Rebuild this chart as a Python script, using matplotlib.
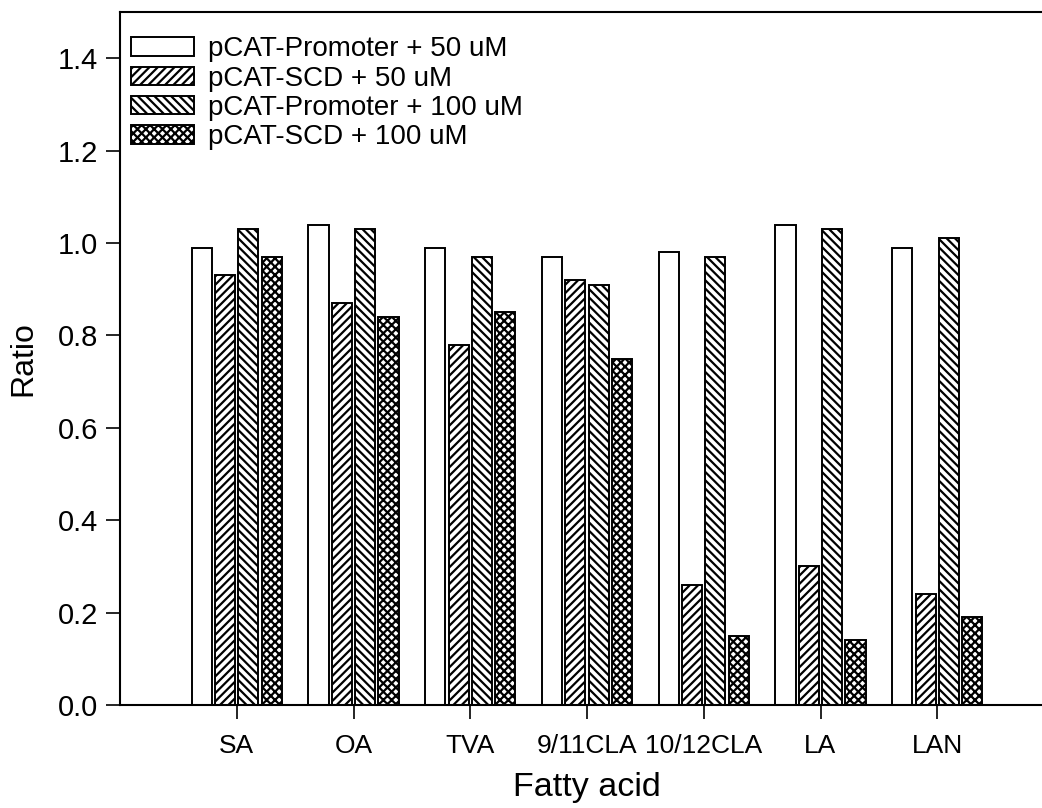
import numpy as np
import matplotlib
matplotlib.use("Agg")
import matplotlib.pyplot as plt

plt.rcParams['font.family'] = ['Liberation Sans', 'DejaVu Sans']
plt.rcParams['hatch.linewidth'] = 1.6

acids = ["SA", "OA", "TVA", "9/11CLA", "10/12CLA", "LA", "LAN"]
series_names = ["pCAT-Promoter + 50 uM", "pCAT-SCD + 50 uM",
                "pCAT-Promoter + 100 uM", "pCAT-SCD + 100 uM"]
promoter_50 = [0.99, 1.04, 0.99, 0.97, 0.98, 1.04, 0.99]
scd_50 = [0.93, 0.87, 0.78, 0.92, 0.26, 0.30, 0.24]
promoter_100 = [1.03, 1.03, 0.97, 0.91, 0.97, 1.03, 1.01]
scd_100 = [0.97, 0.84, 0.85, 0.75, 0.15, 0.14, 0.19]

series = [promoter_50, scd_50, promoter_100, scd_100]
hatches = [None, "////", "\\\\\\\\", "xxxx"]

fig = plt.figure(figsize=(10.42, 8.08), dpi=100)
# axes runs slightly past the right edge, so no right frame shows
ax = fig.add_axes([120 / 1042, 103 / 808, 934 / 1042, 693 / 808])

x = np.arange(len(acids))
width = 0.172
offsets = [-0.3, -0.1, 0.1, 0.3]
for vals, name, h, off in zip(series, series_names, hatches, offsets):
    ax.bar(x + off, vals, width, color="white", edgecolor="black",
           linewidth=1.4, hatch=h, label=name)

ax.set_xlim(-1, 7)
ax.set_ylim(0, 1.5)
ax.set_yticks(np.arange(0, 1.41, 0.2))
ax.set_yticklabels(["%.1f" % v for v in np.arange(0, 1.41, 0.2)])
ax.set_xticks(x)
ax.set_xticklabels(acids)

ax.tick_params(axis="y", direction="out", length=10, width=1.2,
               labelsize=21, pad=6)
ax.tick_params(axis="x", direction="out", length=10, width=1.2,
               labelsize=19, pad=11)
for s in ax.spines.values():
    s.set_linewidth(1.5)

ax.set_ylabel("Ratio", fontsize=23, labelpad=14)
ax.set_xlabel("Fatty acid", fontsize=24.5, labelpad=10)

ax.legend(loc="upper left", bbox_to_anchor=(0.0, 0.981), frameon=False,
          fontsize=20, handlelength=2.27, handleheight=0.65,
          labelspacing=0.12, handletextpad=0.5, borderpad=0.1,
          borderaxespad=0.3)

fig.savefig("out.png", dpi=100)
